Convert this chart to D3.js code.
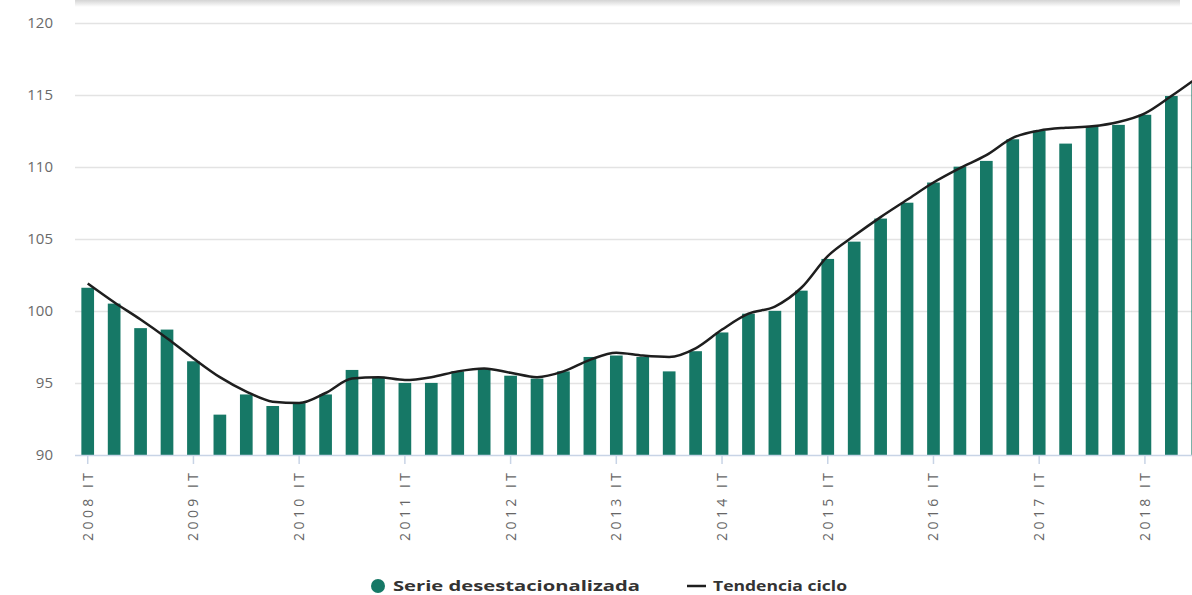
<!DOCTYPE html>
<html>
<head>
<meta charset="utf-8">
<script src="https://cdn.jsdelivr.net/npm/d3@7"></script>
<style>
  html, body { margin: 0; padding: 0; background: #fff; overflow: hidden; }
  svg { display: block; }
</style>
</head>
<body>
<svg id="chart" width="1192" height="595"></svg>
<script>
const categories = [
  "2008 IT","2008 IIT","2008 IIIT","2008 IVT",
  "2009 IT","2009 IIT","2009 IIIT","2009 IVT",
  "2010 IT","2010 IIT","2010 IIIT","2010 IVT",
  "2011 IT","2011 IIT","2011 IIIT","2011 IVT",
  "2012 IT","2012 IIT","2012 IIIT","2012 IVT",
  "2013 IT","2013 IIT","2013 IIIT","2013 IVT",
  "2014 IT","2014 IIT","2014 IIIT","2014 IVT",
  "2015 IT","2015 IIT","2015 IIIT","2015 IVT",
  "2016 IT","2016 IIT","2016 IIIT","2016 IVT",
  "2017 IT","2017 IIT","2017 IIIT","2017 IVT",
  "2018 IT","2018 IIT","2018 IIIT"
];
const serieDesestacionalizada = [
  101.6,100.5,98.8,98.7,
  96.5,92.8,94.2,93.4,
  93.6,94.2,95.9,95.4,
  95.0,95.0,95.8,96.0,
  95.5,95.3,95.8,96.8,
  96.9,96.8,95.8,97.2,
  98.5,99.8,100.0,101.4,
  103.6,104.8,106.4,107.5,
  108.9,110.0,110.4,111.9,
  112.5,111.6,112.8,112.9,
  113.6,114.9,115.8
];
const tendenciaCiclo = [
  101.9,100.6,99.4,98.1,
  96.7,95.4,94.4,93.7,
  93.6,94.3,95.3,95.4,
  95.2,95.4,95.8,96.0,
  95.7,95.4,95.8,96.6,
  97.1,96.9,96.8,97.4,
  98.7,99.8,100.3,101.6,
  103.8,105.2,106.5,107.7,
  108.9,109.9,110.8,112.0,
  112.5,112.7,112.8,113.1,
  113.7,114.9,116.2
];
const yTicks = [90, 95, 100, 105, 110, 115, 120];
const xTickLabels = ["2008 IT","2009 IT","2010 IT","2011 IT","2012 IT","2013 IT","2014 IT","2015 IT","2016 IT","2017 IT","2018 IT"];
const legendLabels = ["Serie desestacionalizada", "Tendencia ciclo"];

const barColor = "#167866";
const lineColor = "#1e1e1e";

const svg = d3.select("#chart");

const step = 26.43;
const left = 74.5;
const x = d3.scaleBand()
  .domain(categories)
  .range([left, left + step * categories.length])
  .paddingInner(0.52)
  .paddingOuter(0.26);

const y = d3.scaleLinear().domain([90, 120]).range([455, 22.5]);

// faint header strip (cropped artefact at top)
const strip = svg.append("defs").append("linearGradient").attr("id", "strip").attr("x1", 0).attr("x2", 0).attr("y1", 0).attr("y2", 1);
strip.append("stop").attr("offset", "0%").attr("stop-color", "#d4d4d4");
strip.append("stop").attr("offset", "100%").attr("stop-color", "#ffffff");
svg.append("rect").attr("x", 75).attr("y", 0).attr("width", 1105).attr("height", 7).attr("fill", "url(#strip)");

// gridlines
svg.append("g").selectAll("line")
  .data(yTicks.filter(t => t !== 90))
  .join("line")
  .attr("x1", 75).attr("x2", 1192)
  .attr("y1", d => Math.round(y(d)) + 0.5).attr("y2", d => Math.round(y(d)) + 0.5)
  .attr("stroke", "#e3e3e3").attr("stroke-width", 1.5);

// y labels
svg.append("g").selectAll("text")
  .data(yTicks)
  .join("text")
  .attr("x", 53).attr("y", d => y(d) + 5)
  .attr("text-anchor", "end")
  .attr("font-family", "'Open Sans', sans-serif")
  .attr("font-size", 15)
  .attr("fill", "#6a6a6a")
  .text(d => d);

// bars
svg.append("g").selectAll("rect")
  .data(categories)
  .join("rect")
  .attr("x", d => x(d))
  .attr("width", x.bandwidth())
  .attr("y", (d, i) => y(serieDesestacionalizada[i]))
  .attr("height", (d, i) => y(90) - y(serieDesestacionalizada[i]))
  .attr("fill", barColor);

// x axis line
svg.append("line")
  .attr("x1", 75).attr("x2", 1192)
  .attr("y1", 455.5).attr("y2", 455.5)
  .attr("stroke", "#c8d4e6").attr("stroke-width", 1.5);

// ticks + labels
const tg = svg.append("g").selectAll("g")
  .data(xTickLabels)
  .join("g")
  .attr("transform", d => `translate(${x(d) + x.bandwidth() / 2},455)`);
tg.append("line").attr("x1", 0).attr("x2", 0).attr("y1", 0).attr("y2", 9)
  .attr("stroke", "#c8d4e6").attr("stroke-width", 1.5);
tg.append("text")
  .attr("transform", "translate(5,18) rotate(-90)")
  .attr("text-anchor", "end")
  .attr("font-family", "'Open Sans', sans-serif")
  .attr("font-size", 14)
  .attr("fill", "#666")
  .attr("textLength", 68)
  .attr("lengthAdjust", "spacing")
  .text(d => d);

// trend line
const line = d3.line()
  .x((d, i) => x(categories[i]) + x.bandwidth() / 2)
  .y(d => y(d))
  .curve(d3.curveMonotoneX);
svg.append("path")
  .datum(tendenciaCiclo)
  .attr("d", line)
  .attr("fill", "none")
  .attr("stroke", lineColor)
  .attr("stroke-width", 2.5);

// legend
const lg = svg.append("g");
lg.append("circle").attr("cx", 378).attr("cy", 586).attr("r", 7).attr("fill", barColor);
lg.append("text").attr("x", 393).attr("y", 591)
  .attr("font-family", "'Open Sans', sans-serif").attr("font-weight", "bold")
  .attr("font-size", 15).attr("fill", "#333")
  .attr("textLength", 247).attr("lengthAdjust", "spacingAndGlyphs")
  .text(legendLabels[0]);
lg.append("line").attr("x1", 687).attr("x2", 706).attr("y1", 586).attr("y2", 586)
  .attr("stroke", lineColor).attr("stroke-width", 2.5);
lg.append("text").attr("x", 713).attr("y", 591)
  .attr("font-family", "'Open Sans', sans-serif").attr("font-weight", "bold")
  .attr("font-size", 15).attr("fill", "#333")
  .attr("textLength", 134).attr("lengthAdjust", "spacingAndGlyphs")
  .text(legendLabels[1]);
</script>
</body>
</html>
